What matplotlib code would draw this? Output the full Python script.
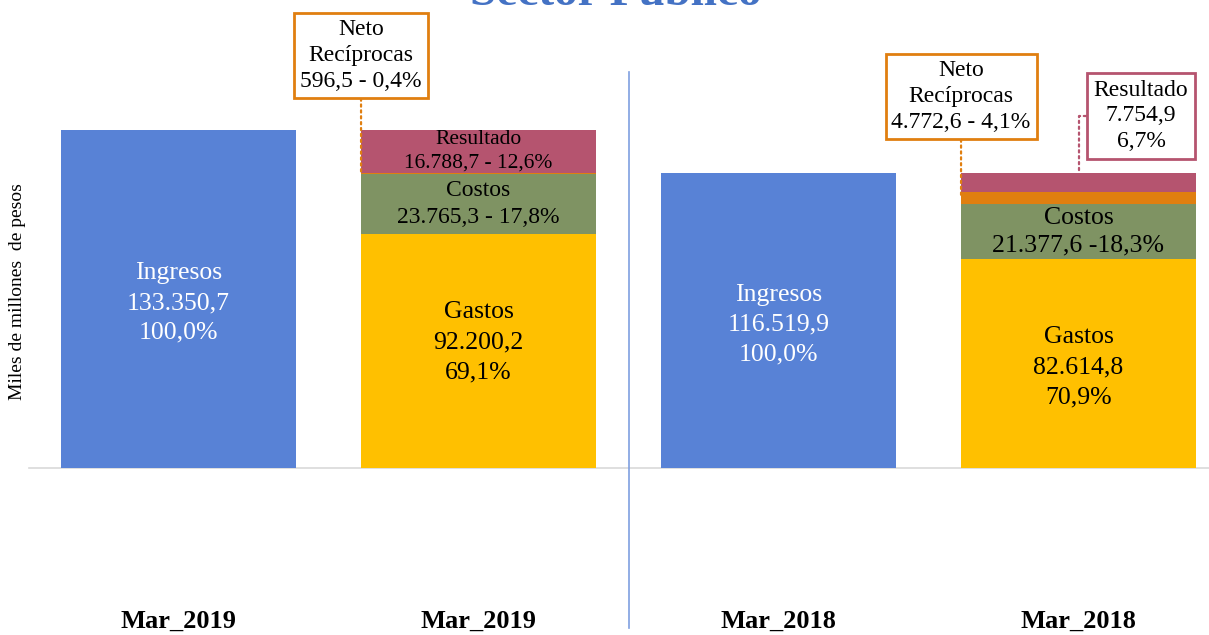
import matplotlib
matplotlib.use("Agg")
import matplotlib.pyplot as plt

plt.rcParams['font.family'] = ['Liberation Serif', 'DejaVu Serif']

# ---- data ----
categories = ['Mar_2019', 'Mar_2019', 'Mar_2018', 'Mar_2018']
ingresos = [133350.7, 116519.9]
gastos = [92200.2, 82614.8]
costos = [23765.3, 21377.6]
neto = [596.5, 4772.6]
resultado = [16788.7, 7754.9]
ingresos_pct = [100.0, 100.0]
gastos_pct = [69.1, 70.9]
costos_pct = [17.8, 18.3]
neto_pct = [0.4, 4.1]
resultado_pct = [12.6, 6.7]

C_ING = '#5882D6'
C_GAS = '#FFC000'
C_COS = '#7F9363'
C_NET = '#E07F10'
C_RES = '#B5546F'


def fmt(v):
    s = f"{v:,.1f}"
    return s.replace(',', 'X').replace('.', ',').replace('X', '.')


fig = plt.figure(figsize=(12.09, 6.35), dpi=100)
ax = fig.add_axes([0, 0, 1, 1])
ax.set_xlim(-0.595, 3.435)
ax.set_ylim(-65900, 184650)
ax.axis('off')

W = 0.783
x_ing = [0, 2]
x_stk = [1, 3]

# baseline
ax.axhline(0, xmin=29 / 1209, xmax=1, color='#D9D9D9', lw=1.2, zorder=1)

# ingresos bars
ax.bar(x_ing, ingresos, width=W, color=C_ING, zorder=2)
# stacked bars
b_gas = gastos
b_cos = [g + c for g, c in zip(gastos, costos)]
b_net = [b + n for b, n in zip(b_cos, neto)]
ax.bar(x_stk, gastos, width=W, color=C_GAS, zorder=2)
ax.bar(x_stk, costos, width=W, bottom=b_gas, color=C_COS, zorder=2)
ax.bar(x_stk, neto, width=W, bottom=b_cos, color=C_NET, zorder=2)
ax.bar(x_stk, resultado, width=W, bottom=b_net, color=C_RES, zorder=2)

# separator line
ax.axvline(1.5, ymin=7 / 635, ymax=1 - 72 / 635, color='#7F9FE0', lw=1.2, zorder=1)

# ingresos labels
for x, v, p in zip(x_ing, ingresos, ingresos_pct):
    ax.annotate(f"Ingresos\n{fmt(v)}\n{fmt(p)}%", xy=(x, v / 2), xytext=(0, -4),
                textcoords='offset pixels', ha='center', va='center',
                color='white', fontsize=18.5, linespacing=1.46, zorder=3)

# gastos labels
gastos_dy = [9, -4]
for x, v, p, dy in zip(x_stk, gastos, gastos_pct, gastos_dy):
    ax.annotate(f"Gastos\n{fmt(v)}\n{fmt(p)}%", xy=(x, v / 2), xytext=(0, dy),
                textcoords='offset pixels', ha='center', va='center',
                color='black', fontsize=18.5, linespacing=1.46, zorder=3)

# costos labels
ax.text(x_stk[0], b_gas[0] + costos[0] / 2,
        f"Costos\n{fmt(costos[0])} - {fmt(costos_pct[0])}%",
        ha='center', va='center', fontsize=17, linespacing=1.4, zorder=3)
ax.text(x_stk[1], b_gas[1] + costos[1] / 2,
        f"Costos\n{fmt(costos[1])} -{fmt(costos_pct[1])}%",
        ha='center', va='center', fontsize=18.5, linespacing=1.3, zorder=3)

# resultado label inside bar (2019)
ax.text(x_stk[0], b_net[0] + resultado[0] / 2,
        f"Resultado\n{fmt(resultado[0])} - {fmt(resultado_pct[0])}%",
        ha='center', va='center', fontsize=15.5, linespacing=1.35, zorder=3)

# neto callouts
neto_dy = [118, 102]
for x, b, n, p, dy in zip(x_stk, b_cos, neto, neto_pct, neto_dy):
    ax.annotate(f"Neto\nRecíprocas\n{fmt(n)} - {fmt(p)}%",
                xy=(x - W / 2, b + n / 2), xytext=(0, dy),
                textcoords='offset pixels', ha='center', va='center',
                fontsize=17, linespacing=1.3, zorder=4,
                bbox=dict(boxstyle='square,pad=0.25', fc='white', ec=C_NET, lw=2),
                arrowprops=dict(arrowstyle='-', linestyle=':', color=C_NET, lw=1.6,
                                shrinkA=0, shrinkB=0))

# resultado callout (2018)
ax.annotate(f"Resultado\n{fmt(resultado[1])}\n{fmt(resultado_pct[1])}%",
            xy=(x_stk[1], b_net[1] + resultado[1]), xytext=(62.5, 56.7),
            textcoords='offset pixels', ha='center', va='center',
            fontsize=17, linespacing=1.3, zorder=4,
            bbox=dict(boxstyle='square,pad=0.3', fc='white', ec=C_RES, lw=2),
            arrowprops=dict(arrowstyle='-', linestyle=':', color=C_RES, lw=1.6,
                            shrinkA=0, shrinkB=0,
                            connectionstyle='angle,angleA=180,angleB=90,rad=0'))

# category labels
for i, c in enumerate(categories):
    ax.text(i, 7 / 635, c, transform=ax.get_xaxis_transform(), ha='center',
            va='baseline', fontsize=19, fontweight='bold')

# y label
fig.text(18 / 1209, 1 - 292 / 635, 'Miles de millones  de pesos', rotation=90,
         ha='center', va='center', fontsize=14)

# title (cut at top, as in the reference)
fig.text(616 / 1209, 1 - 5 / 635, 'Sector Público', ha='center', va='baseline',
         fontsize=34, fontweight='bold', color='#4472C4')

fig.savefig('out.png', dpi=100)
